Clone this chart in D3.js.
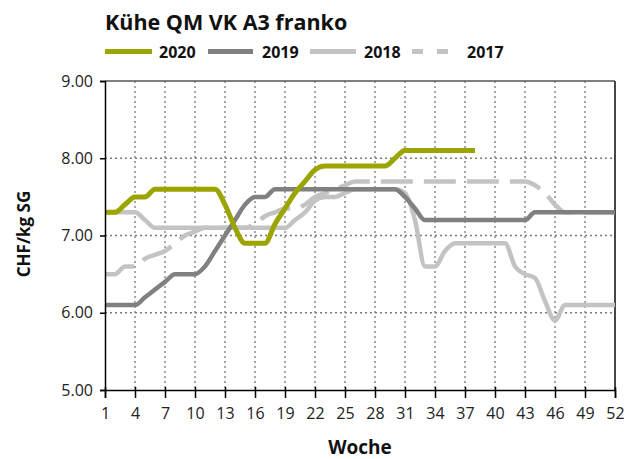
<!DOCTYPE html>
<html>
<head>
<meta charset="utf-8">
<script src="https://cdn.jsdelivr.net/npm/d3@7"></script>
<style>
  html, body { margin: 0; padding: 0; background: #fff; }
  svg { display: block; font-family: "Open Sans", sans-serif; }
</style>
</head>
<body>
<svg id="chart" width="638" height="459"></svg>
<script>
// ---- data ----
const weeks = [1,2,3,4,5,6,7,8,9,10,11,12,13,14,15,16,17,18,19,20,21,22,23,24,25,26,
  27,28,29,30,31,32,33,34,35,36,37,38,39,40,41,42,43,44,45,46,47,48,49,50,51,52];
const xTickWeeks = [1,4,7,10,13,16,19,22,25,28,31,34,37,40,43,46,49,52];
const yTicks = [5, 6, 7, 8, 9];
const seriesNames = ["2020", "2019", "2018", "2017"];

const v2020 = [7.3,7.3,7.4,7.5,7.5,7.6,7.6,7.6,7.6,7.6,7.6,7.6,7.4,7.1,6.9,6.9,6.9,7.15,7.35,7.55,
  7.7,7.85,7.9,7.9,7.9,7.9,7.9,7.9,7.9,8.0,8.1,8.1,8.1,8.1,8.1,8.1,8.1,8.1];
const v2019 = [6.1,6.1,6.1,6.1,6.2,6.3,6.4,6.5,6.5,6.5,6.6,6.8,7.0,7.2,7.4,7.5,7.5,
  7.6,7.6,7.6,7.6,7.6,7.6,7.6,7.6,7.6,7.6,7.6,7.6,7.6,7.5,7.35,
  7.2,7.2,7.2,7.2,7.2,7.2,7.2,7.2,7.2,7.2,7.2,7.3,7.3,7.3,7.3,7.3,7.3,7.3,7.3,7.3];
const v2018 = [7.3,7.3,7.3,7.3,7.2,7.1,7.1,7.1,7.1,7.1,7.1,7.1,7.1,7.1,7.1,7.1,7.1,7.1,7.1,
  7.2,7.3,7.45,7.5,7.5,7.55,7.6,7.6,7.6,7.6,7.6,7.55,7.2,6.6,6.6,6.8,
  6.9,6.9,6.9,6.9,6.9,6.9,6.6,6.5,6.45,6.15,5.9,6.1,6.1,6.1,6.1,6.1,6.1];
const v2017 = [6.5,6.5,6.6,6.6,6.7,6.75,6.8,6.9,7.0,7.05,7.1,7.1,7.1,7.1,7.1,7.15,7.25,7.3,7.35,7.35,
  7.4,7.5,7.55,7.6,7.65,7.7,7.7,7.7,7.7,7.7,7.7,7.7,7.7,7.7,7.7,7.7,7.7,7.7,7.7,7.7,7.7,7.7,7.7,
  7.65,7.55,7.4,7.3,7.3,7.3,7.3,7.3,7.3];

// ---- layout ----
const svg = d3.select("#chart");
const L = 105, R = 615, T = 81, B = 390;
const x = d3.scaleLinear().domain([1, 52]).range([L, R]);
const y = d3.scaleLinear().domain([5, 9]).range([B, T]);

const styles = {
  "2020": { color: "#9ca500", width: 5, dash: null },
  "2019": { color: "#808080", width: 4.5, dash: null },
  "2018": { color: "#c3c3c3", width: 4.5, dash: null },
  "2017": { color: "#c3c3c3", width: 4.5, dash: "32,11" }
};
const valuesByName = { "2020": v2020, "2019": v2019, "2018": v2018, "2017": v2017 };

// gridlines
const grid = svg.append("g");
grid.selectAll("line.vg").data(xTickWeeks.filter(w => w !== 1 && w !== 52)).join("line")
  .attr("x1", d => x(d)).attr("x2", d => x(d)).attr("y1", T).attr("y2", B)
  .attr("stroke", "#7a7a7a").attr("stroke-width", 1.3).attr("stroke-dasharray", "2,3");
grid.selectAll("line.hg").data(yTicks.filter(v => v > 5 && v < 9)).join("line")
  .attr("x1", L).attr("x2", R).attr("y1", d => y(d)).attr("y2", d => y(d))
  .attr("stroke", "#7a7a7a").attr("stroke-width", 1.3).attr("stroke-dasharray", "2,3");

// frame top & right
svg.append("line").attr("x1", L).attr("x2", R).attr("y1", y(9)).attr("y2", y(9))
  .attr("stroke", "#555").attr("stroke-width", 1.5);
svg.append("line").attr("x1", R).attr("x2", R).attr("y1", T).attr("y2", B)
  .attr("stroke", "#333").attr("stroke-width", 1.8);

// series (drawn 2017 first, 2020 on top)
const line = d3.line().x((d, i) => x(weeks[i])).y(d => y(d)).curve(d3.curveMonotoneX);
const order = seriesNames.slice().reverse();
svg.append("g").selectAll("path").data(order).join("path")
  .attr("d", n => line(valuesByName[n]))
  .attr("fill", "none")
  .attr("stroke", n => styles[n].color)
  .attr("stroke-width", n => styles[n].width)
  .attr("stroke-dasharray", n => styles[n].dash)
  .attr("stroke-linejoin", "round");

// y axis
const yAxis = d3.axisLeft(y).tickValues(yTicks).tickSize(5).tickPadding(7)
  .tickFormat(d3.format(".2f"));
const gy = svg.append("g").attr("transform", `translate(${L},0)`).call(yAxis);
gy.select(".domain").attr("stroke", "#000").attr("stroke-width", 1.5);
gy.selectAll(".tick line").attr("stroke", "#000").attr("stroke-width", 1.5);
gy.selectAll(".tick text").attr("font-family", "Open Sans").attr("font-size", 16).attr("fill", "#222");

// x axis
const xAxis = d3.axisBottom(x).tickValues(xTickWeeks).tickSize(8).tickPadding(10)
  .tickFormat(d3.format("d"));
const gx = svg.append("g").attr("transform", `translate(0,${B})`).call(xAxis);
gx.select(".domain").attr("stroke", "#000").attr("stroke-width", 1.5);
gx.selectAll(".tick line").attr("stroke", "#000").attr("stroke-width", 1.5).attr("y1", -3);
gx.selectAll(".tick text").attr("font-family", "Open Sans").attr("font-size", 16).attr("fill", "#222");

// titles
svg.append("text").attr("x", 105).attr("y", 30)
  .attr("font-size", 21.5).attr("font-weight", "bold").attr("fill", "#111")
  .text("Kühe QM VK A3 franko");
svg.append("text").attr("x", 360).attr("y", 454).attr("text-anchor", "middle")
  .attr("font-size", 19).attr("font-weight", "bold").attr("fill", "#111")
  .text("Woche");
svg.append("text").attr("transform", "translate(30,234) rotate(-90)").attr("text-anchor", "middle")
  .attr("font-size", 17).attr("font-weight", "bold").attr("fill", "#111")
  .text("CHF/kg SG");

// legend
const legendItems = [
  { name: "2020", segs: [[105, 152]], tx: 159 },
  { name: "2019", segs: [[208, 253]], tx: 262 },
  { name: "2018", segs: [[310, 356]], tx: 364 },
  { name: "2017", segs: [[412, 423], [437, 448]], tx: 467 }
];
const lg = svg.append("g");
legendItems.forEach(it => {
  it.segs.forEach(s => {
    lg.append("line").attr("x1", s[0]).attr("x2", s[1]).attr("y1", 51.5).attr("y2", 51.5)
      .attr("stroke", styles[it.name].color).attr("stroke-width", 5);
  });
  lg.append("text").attr("x", it.tx).attr("y", 57.5)
    .attr("font-size", 16).attr("font-weight", "bold").attr("fill", "#111").text(it.name);
});
</script>
</body>
</html>
